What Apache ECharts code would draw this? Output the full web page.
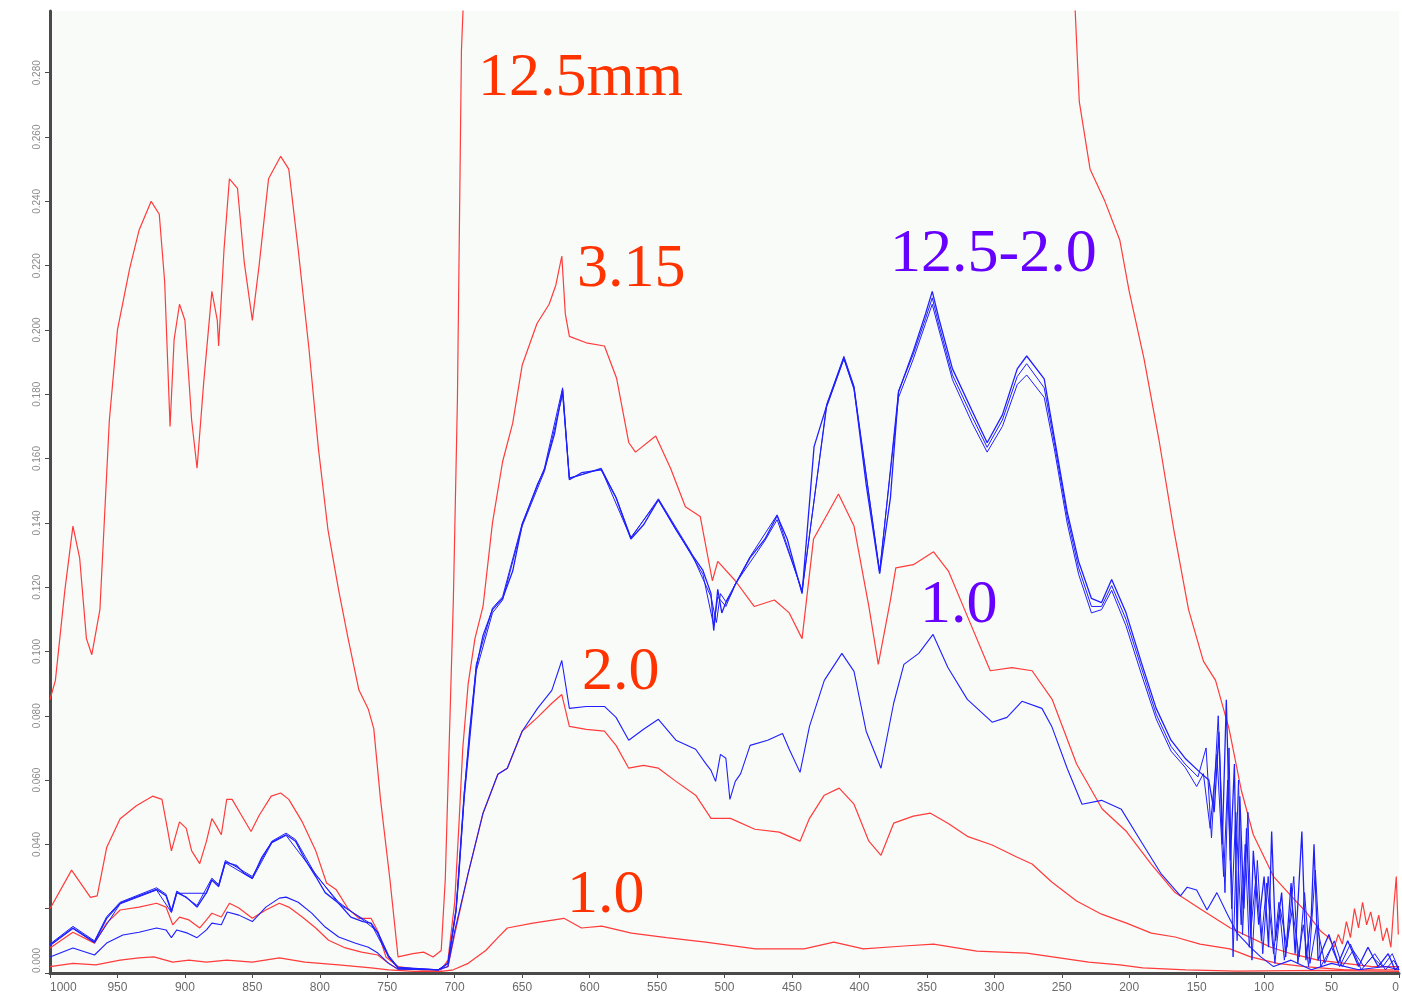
<!DOCTYPE html>
<html><head><meta charset="utf-8">
<script src="https://cdn.jsdelivr.net/npm/echarts@6/dist/echarts.min.js"></script>
<style>html,body{margin:0;padding:0;background:#fff}#c{width:1402px;height:998px}</style>
</head><body><div id="c"></div>
<script>
// x: wavelength (reversed axis), y: absorbance
const xTicks = [0,50,100,150,200,250,300,350,400,450,500,550,600,650,700,750,800,850,900,950,1000];
const yTicks = [0,0.02,0.04,0.06,0.08,0.10,0.12,0.14,0.16,0.18,0.20,0.22,0.24,0.26,0.28];

const red125 = [[1000,0.085],[996,0.091],[989,0.119],[983,0.139],[978,0.129],[973,0.104],[969,0.099],[963,0.113],[956,0.172],[950,0.200],[941,0.219],[934,0.231],[925,0.240],[919,0.236],[915,0.215],[911,0.170],[908,0.197],[904,0.208],[900,0.203],[895,0.172],[891,0.157],[886,0.184],[880,0.212],[876,0.203],[875,0.195],[871,0.225],[867,0.247],[861,0.244],[856,0.221],[850,0.203],[845,0.220],[838,0.247],[829,0.254],[823,0.250],[816,0.225],[808,0.194],[801,0.163],[794,0.138],[786,0.119],[779,0.104],[771,0.088],[764,0.082],[760,0.076],[755,0.054],[748,0.029],[742,0.005],[731,0.006],[723,0.0065],[716,0.005],[710,0.007],[707,0.029],[701,0.116],[698,0.178],[695,0.287],[690,0.34],[650,0.45],[550,0.5],[450,0.5],[350,0.48],[270,0.4],[245,0.32],[240,0.299],[237,0.271],[229,0.250],[218,0.240],[207,0.228],[200,0.212],[189,0.191],[178,0.166],[167,0.138],[156,0.113],[145,0.097],[136,0.091],[126,0.076],[117,0.057],[108,0.043],[93,0.030],[80,0.024],[69,0.019],[58,0.013],[52,0.011],[48,0.008],[45,0.012],[42,0.009],[39,0.016],[36,0.011],[33,0.02],[30,0.014],[27,0.022],[24,0.015],[21,0.019],[18,0.013],[15,0.018],[12,0.01],[9,0.014],[6,0.008],[4,0.02],[2,0.03],[0.5,0.012]];

const red315 = [[1000,0.020],[984,0.032],[970,0.0235],[965,0.024],[958,0.039],[948,0.048],[936,0.052],[924,0.055],[917,0.054],[913,0.045],[910,0.038],[908,0.041],[904,0.047],[899,0.045],[895,0.038],[889,0.034],[884,0.041],[880,0.048],[877,0.046],[873,0.043],[869,0.054],[865,0.054],[858,0.049],[851,0.044],[845,0.049],[836,0.055],[829,0.056],[823,0.054],[813,0.047],[803,0.038],[795,0.028],[788,0.026],[779,0.020],[771,0.017],[762,0.017],[757,0.013],[751,0.005],[742,0.002],[725,0.001],[710,0.001],[705,0.004],[700,0.022],[697,0.045],[694,0.07],[690,0.09],[685,0.104],[679,0.114],[672,0.14],[664.5,0.159],[657,0.171],[650,0.189],[639,0.202],[630,0.208],[625,0.214],[620.6,0.223],[618,0.205],[615,0.198],[602.5,0.196],[589,0.195],[580,0.185],[571,0.165],[566,0.162],[551,0.167],[540,0.157],[529,0.145],[518,0.142],[509,0.122],[505,0.128],[492,0.122],[478,0.114],[463,0.116],[452,0.112],[442.5,0.104],[434,0.135],[415.5,0.149],[404,0.139],[393,0.114],[386,0.096],[377,0.116],[373,0.126],[360,0.127],[345,0.131],[334,0.125],[320,0.111],[303,0.094],[287,0.095],[272,0.094],[257,0.085],[239,0.065],[220,0.051],[202,0.044],[184,0.034],[166,0.025],[147.5,0.020],[125,0.014],[110,0.011],[95,0.008],[80,0.006],[60,0.004],[40,0.003],[20,0.002],[0,0.002]];

const red20 = [[1000,0.0078],[983,0.0127],[967,0.0093],[958,0.0155],[948,0.0196],[934,0.0205],[921,0.0217],[914,0.0205],[909,0.015],[904,0.0174],[897,0.0165],[889,0.014],[884,0.0165],[880,0.0186],[873,0.0174],[867,0.0217],[860,0.0202],[850,0.017],[840,0.0196],[830,0.0217],[823,0.0205],[813,0.0174],[803,0.014],[793.5,0.0102],[781,0.0078],[769,0.0065],[757,0.0056],[749,0.003],[742,0.0012],[712,0.001],[705,0.002],[700,0.012],[690,0.031],[679,0.0497],[668,0.0618],[661,0.0637],[650,0.0752],[638.6,0.0795],[628,0.0839],[620.6,0.0866],[615,0.0767],[602.5,0.0758],[589,0.0752],[580.4,0.0708],[571,0.0637],[560,0.0646],[549,0.0637],[536,0.0596],[521.4,0.0553],[510,0.0481],[495.6,0.0481],[477.5,0.0447],[459.4,0.0438],[444,0.041],[437,0.0481],[426,0.0553],[415,0.0575],[404,0.0525],[393,0.041],[384,0.0366],[374.6,0.0466],[360,0.0488],[347.3,0.0497],[334.4,0.0466],[320,0.0425],[301.6,0.0398],[283,0.036],[272,0.0339],[257.4,0.0283],[239,0.0224],[220.5,0.0183],[202,0.0155],[183.6,0.0124],[166,0.0112],[147.5,0.009],[125.4,0.0075],[110,0.005],[90,0.003],[70,0.002],[40,0.001],[0,0.001]];

const red10 = [[1000,0.002],[983,0.003],[966,0.0025],[948,0.004],[934,0.0047],[923,0.005],[909,0.0034],[897,0.004],[884,0.0034],[869,0.004],[850,0.0034],[830,0.0047],[811,0.0034],[786,0.0025],[762,0.0016],[749,0.001],[730,0.0005],[710,0.0005],[701,0.001],[690,0.003],[677,0.007],[668,0.011],[661,0.014],[642,0.0155],[619,0.017],[606,0.014],[591,0.0146],[569,0.0124],[543,0.011],[514,0.0096],[477,0.0075],[441,0.0075],[419,0.0096],[397,0.0075],[367,0.0084],[345,0.009],[313,0.0068],[276,0.0062],[230,0.0034],[207,0.0025],[190,0.0016],[158,0.001],[120,0.0006],[60,0.0008],[0,0.0005]];

const blueA = [[1000,0.0087],[983,0.014],[967,0.0096],[958,0.017],[948,0.0217],[934,0.024],[921,0.026],[914,0.024],[910,0.019],[906,0.025],[899,0.0236],[891,0.0205],[884,0.025],[880,0.029],[875,0.027],[870,0.0345],[862,0.0335],[856,0.031],[850,0.0295],[843,0.036],[835.5,0.0407],[825,0.043],[818,0.041],[810.5,0.035],[803,0.030],[796,0.025],[786,0.0217],[777,0.0174],[768,0.016],[762,0.0155],[757,0.0124],[749,0.005],[742,0.0016],[712,0.001],[705,0.003],[699,0.0196],[697,0.03],[693,0.055],[689,0.075],[684,0.095],[679,0.105],[672,0.113],[664.5,0.1165],[657,0.125],[650,0.1394],[638.6,0.152],[633.5,0.1565],[626,0.1677],[620,0.1814],[615,0.1534],[606,0.1556],[591.4,0.1565],[580.4,0.1478],[569.4,0.135],[560,0.1394],[549,0.1472],[536,0.1379],[525,0.1307],[516,0.1252],[510,0.118],[508,0.1065],[505,0.1193],[502,0.112],[499,0.1152],[495,0.118],[492,0.1208],[481,0.1292],[470,0.135],[461,0.1422],[453.5,0.135],[442.5,0.118],[433.6,0.1637],[424.3,0.1764],[411.5,0.1913],[404,0.182],[395,0.152],[385,0.1242],[377,0.1478],[371,0.1807],[360,0.1935],[351,0.205],[346,0.212],[341,0.2034],[331,0.1879],[316.4,0.1748],[305.3,0.1649],[294,0.1736],[283,0.1879],[276,0.1919],[263,0.1848],[255.5,0.1665],[246,0.1435],[237.5,0.128],[228,0.1165],[220.5,0.1152],[213,0.1224],[202.4,0.1121],[191,0.0966],[180,0.0823],[169,0.0724],[158.6,0.0668],[147.5,0.0624],[141,0.060],[137,0.05],[133.5,0.075],[131,0.04],[128,0.085],[125,0.035],[122,0.065],[120,0.01],[118,0.055],[115,0.02],[113,0.045],[110,0.012],[108,0.038],[104,0.015],[100,0.03],[96.7,0.008],[94.4,0.044],[91.5,0.01],[87,0.025],[84,0.005],[80,0.028],[77,0.006],[72,0.044],[69,0.004],[65,0.018],[63,0.04],[60,0.004],[52,0.012],[45,0.003],[38,0.01],[30,0.002],[23,0.008],[15.5,0.002],[8,0.006],[3,0.001],[0,0.002]];

const blueB = [[1000,0.009],[983,0.0145],[967,0.010],[958,0.0175],[948,0.022],[921,0.0265],[914,0.0245],[910,0.0195],[906,0.0255],[891,0.021],[880,0.0295],[875,0.0275],[870,0.035],[856,0.0315],[850,0.030],[835.5,0.041],[825,0.0435],[818,0.0415],[803,0.0305],[786,0.022],[768,0.0165],[757,0.0128],[749,0.0055],[742,0.0018],[712,0.001],[705,0.003],[699,0.019],[693,0.054],[684,0.094],[672,0.112],[664.5,0.116],[650,0.139],[633.5,0.156],[620,0.180],[615,0.154],[606,0.155],[591.4,0.157],[580.4,0.148],[569.4,0.1355],[549,0.147],[536,0.138],[516,0.124],[508,0.108],[505,0.117],[499,0.114],[492,0.121],[470,0.1345],[461,0.141],[442.5,0.119],[424.3,0.176],[411.5,0.191],[404,0.1815],[385,0.125],[371,0.179],[360,0.191],[351,0.202],[346,0.208],[341,0.200],[331,0.1845],[316.4,0.171],[305.3,0.162],[294,0.170],[283,0.183],[276,0.186],[263,0.179],[255.5,0.163],[246,0.140],[237.5,0.124],[228,0.112],[220.5,0.113],[213,0.119],[202.4,0.108],[191,0.093],[180,0.079],[169,0.069],[158.6,0.064],[150,0.058],[145,0.062],[140,0.045],[135,0.068],[130,0.03],[127,0.06],[124,0.02],[121,0.05],[117,0.015],[114,0.04],[111,0.008],[106,0.03],[102,0.01],[98,0.028],[93,0.006],[89,0.022],[85,0.004],[79,0.02],[74,0.005],[70,0.025],[66,0.003],[61,0.015],[55,0.003],[48,0.01],[42,0.002],[34,0.007],[26,0.002],[18,0.006],[10,0.001],[4,0.004],[0,0.001]];

const blueC = [[1000,0.0085],[983,0.0138],[967,0.0094],[948,0.0215],[921,0.0258],[910,0.0188],[906,0.0248],[884,0.0248],[880,0.0288],[875,0.0268],[870,0.0343],[850,0.0293],[835.5,0.0405],[825,0.0428],[810.5,0.0348],[786,0.0215],[762,0.0153],[749,0.005],[742,0.0015],[712,0.001],[705,0.003],[699,0.02],[693,0.056],[684,0.096],[672,0.1135],[664.5,0.117],[650,0.1398],[633.5,0.157],[620,0.182],[615,0.1538],[591.4,0.1568],[569.4,0.1352],[549,0.1475],[525,0.131],[510,0.117],[506,0.109],[503,0.118],[499,0.1155],[481,0.1295],[461,0.1425],[442.5,0.1185],[424.3,0.1768],[411.5,0.1918],[404,0.1825],[385,0.1245],[371,0.181],[360,0.1925],[351,0.2035],[346,0.210],[341,0.2015],[331,0.186],[316.4,0.173],[305.3,0.1635],[294,0.172],[283,0.1855],[276,0.1895],[263,0.182],[255.5,0.165],[246,0.142],[237.5,0.126],[228,0.114],[220.5,0.114],[213,0.1205],[202.4,0.110],[191,0.095],[180,0.0805],[169,0.0705],[158.6,0.065],[149,0.061],[143,0.07],[139,0.042],[134,0.08],[129,0.025],[126,0.07],[123,0.005],[119,0.06],[116,0.012],[112,0.05],[109,0.004],[105,0.035],[101,0.006],[97,0.03],[92,0.003],[88,0.02],[83,0.008],[78,0.03],[75,0.003],[71,0.015],[67,0.002],[62,0.032],[58,0.002],[50,0.008],[44,0.002],[36,0.009],[28,0.001],[20,0.005],[12,0.002],[5,0.006],[0,0.001]];

const blue10 = [[1000,0.005],[983,0.0078],[967,0.0056],[958,0.0093],[946,0.0118],[934,0.0127],[921,0.014],[914,0.0134],[910,0.011],[906,0.0134],[898,0.0124],[891,0.011],[884,0.0134],[880,0.0155],[873,0.015],[868.6,0.019],[860,0.018],[850,0.016],[840,0.0205],[830,0.0233],[825,0.0236],[816,0.022],[806,0.0186],[796,0.0143],[786,0.0112],[774,0.0093],[764,0.008],[757,0.0062],[749,0.003],[742,0.0012],[712,0.001],[705,0.002],[700,0.013],[690,0.031],[679,0.0497],[668,0.0618],[661,0.0637],[650,0.0752],[638.6,0.0823],[628,0.0879],[620.6,0.0972],[615,0.0823],[602.5,0.0829],[589,0.0829],[580.4,0.0795],[571,0.0724],[560,0.0758],[549,0.0789],[536,0.0724],[521.4,0.0696],[514,0.0652],[510,0.063],[506.6,0.0596],[503,0.068],[499,0.0668],[496,0.054],[492,0.0596],[488,0.062],[481,0.0708],[468,0.0724],[457,0.0745],[452,0.0696],[444,0.0624],[437,0.0767],[426,0.091],[413,0.0994],[404,0.0938],[395,0.0752],[384,0.0637],[374.6,0.0839],[367,0.096],[356,0.0994],[345.4,0.1053],[334.4,0.095],[320,0.0851],[301.6,0.078],[290.6,0.0795],[279.5,0.0845],[264.7,0.0823],[257.4,0.0767],[246,0.0637],[235,0.0525],[220.5,0.0537],[205.8,0.0509],[191.3,0.041],[176.6,0.031],[162,0.024],[157,0.0267],[150,0.0258],[142.3,0.0196],[135,0.025],[127.6,0.0186],[120,0.0124],[110,0.008],[102.5,0.005],[93,0.002],[80,0.004],[65,0.001],[50,0.003],[30,0.001],[10,0.002],[0,0.001]];

const labels = [
  {text:'12.5mm', x:478, y:79, color:'#ff3300'},
  {text:'3.15', x:577, y:270, color:'#ff3300'},
  {text:'12.5-2.0', x:890, y:255, color:'#6600ff'},
  {text:'1.0', x:920, y:606, color:'#6600ff'},
  {text:'2.0', x:582, y:673, color:'#ff3300'},
  {text:'1.0', x:567, y:896, color:'#ff3300'}
];

const RED = '#ff3b3b', BLUE = '#1f1fff';
function line(name, data, color, w){
  return {name, type:'line', data, showSymbol:false, symbol:'none', smooth:false,
    lineStyle:{color, width:w}, itemStyle:{color}, z: color===BLUE?3:2, animation:false, clip:true};
}

const chart = echarts.init(document.getElementById('c'), null, {renderer:'canvas'});
chart.setOption({
  backgroundColor:'#ffffff',
  animation:false,
  grid:{left:50, top:11, width:1356, bottom:25, show:true, backgroundColor:'#f9fbf8', borderWidth:0},
  xAxis:{type:'value', min:0, max:1000, interval:50, inverse:true,
    axisLine:{show:true, onZero:false, lineStyle:{color:'#4a4a4a', width:3}},
    axisTick:{show:true, length:5, lineStyle:{color:'#4a4a4a', width:1}},
    axisLabel:{color:'#6a6a6a', fontSize:12, fontFamily:'Liberation Sans, Arial', margin:9,
      alignMaxLabel:'left', alignMinLabel:'right', formatter:function(v){ return String(v); }},
    splitLine:{show:false}},
  yAxis:{type:'value', min:0, max:0.2992, interval:0.02, position:'left',
    axisLine:{show:true, onZero:false, lineStyle:{color:'#4a4a4a', width:3}},
    axisTick:{show:true, length:5, lineStyle:{color:'#4a4a4a', width:1}},
    axisLabel:{color:'#8a8a8a', fontSize:10, fontFamily:'Liberation Sans, Arial', rotate:90, margin:8,
      showMaxLabel:false, alignMinLabel:'left',
      formatter:function(v){ if (Math.abs(v-0.02)<1e-6) return ''; if (v>0.2805) return ''; return v.toFixed(3); }},
    splitLine:{show:false}},
  series:[
    line('12.5mm', red125, RED, 1.2),
    line('3.15', red315, RED, 1.2),
    line('2.0', red20, RED, 1.2),
    line('1.0', red10, RED, 1.2),
    line('12.5-2.0 a', blueA, BLUE, 1.3),
    line('12.5-2.0 b', blueB, BLUE, 1),
    line('12.5-2.0 c', blueC, BLUE, 1),
    line('blue 1.0', blue10, BLUE, 1.1)
  ],
  graphic: labels.map(l => ({type:'text', left:l.x, top:l.y - 31, z:100,
    style:{text:l.text, fill:l.color, font:'62px "Liberation Serif", "Times New Roman", serif'}}))
});
</script></body></html>
